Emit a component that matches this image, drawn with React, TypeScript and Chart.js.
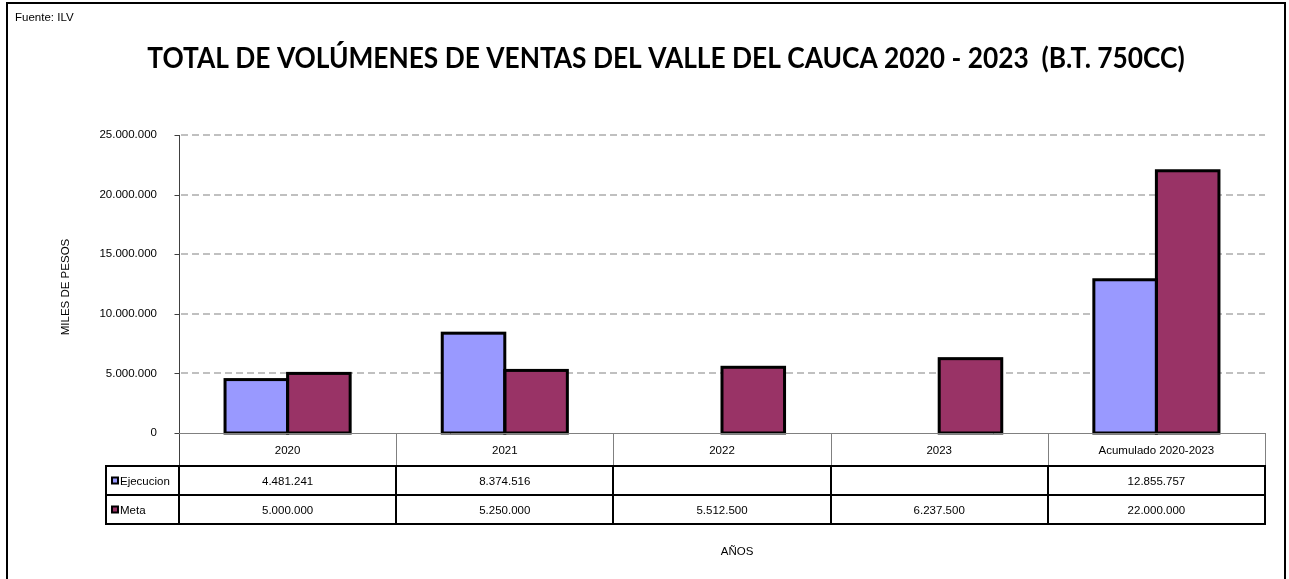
import React, { useEffect, useRef } from "react";
import { Chart, registerables } from "chart.js";

Chart.register(...registerables);

const categories = ["2020", "2021", "2022", "2023", "Acumulado 2020-2023"];
const seriesNames = ["Ejecucion", "Meta"];
const ejecucion: (number | null)[] = [4481241, 8374516, null, null, 12855757];
const meta: (number | null)[] = [5000000, 5250000, 5512500, 6237500, 22000000];
const seriesColors = ["#9999FF", "#993366"];
const yMin = 0;
const yMax = 25000000;
const yStep = 5000000;

const titleText = "TOTAL DE VOLÚMENES DE VENTAS DEL VALLE DEL CAUCA 2020 - 2023  (B.T. 750CC)";
const sourceText = "Fuente: ILV";
const yTitle = "MILES DE PESOS";
const xTitle = "AÑOS";

const SMALL_FONT = "11.5px 'Liberation Sans', Arial, sans-serif";

function fmt(v: number | null): string {
  if (v === null || v === undefined) return "";
  return Math.round(v)
    .toString()
    .replace(/\B(?=(\d{3})+(?!\d))/g, ".");
}

const decorPlugin = {
  id: "decor",
  beforeDatasetsDraw(chart: any) {
    const ctx = chart.ctx;
    const { left, right } = chart.chartArea;
    const y = chart.scales.y;
    ctx.save();
    ctx.strokeStyle = "#c0c0c0";
    ctx.lineWidth = 2;
    ctx.setLineDash([7, 4]);
    for (let v = yMin + yStep; v <= yMax; v += yStep) {
      const py = Math.round(y.getPixelForValue(v));
      ctx.beginPath();
      ctx.moveTo(left + 2, py);
      ctx.lineTo(right, py);
      ctx.stroke();
    }
    ctx.setLineDash([]);
    ctx.restore();
  },
  afterDatasetsDraw(chart: any) {
    const ctx = chart.ctx;
    const { left, right, top, bottom } = chart.chartArea;
    const xs = chart.scales.x;
    const ys = chart.scales.y;
    ctx.save();

    // bar borders centred on edges
    ctx.strokeStyle = "#000";
    ctx.lineWidth = 3;
    chart.data.datasets.forEach((ds: any, di: number) => {
      const m = chart.getDatasetMeta(di);
      m.data.forEach((el: any, i: number) => {
        if (ds.data[i] === null || ds.data[i] === undefined) return;
        const p = el.getProps(["x", "y", "base", "width"], true);
        ctx.strokeRect(p.x - p.width / 2, p.y, p.width, p.base - p.y);
      });
    });

    // y axis line & tick marks
    ctx.strokeStyle = "#404040";
    ctx.lineWidth = 1;
    const ax = Math.round(left) + 0.5;
    ctx.beginPath();
    ctx.moveTo(ax, top);
    ctx.lineTo(ax, bottom + 33);
    ctx.stroke();
    for (let v = yMin; v <= yMax; v += yStep) {
      const py = Math.round(ys.getPixelForValue(v)) + 0.5;
      ctx.beginPath();
      ctx.moveTo(ax - 5, py);
      ctx.lineTo(ax, py);
      ctx.stroke();
    }

    // data table
    const n = categories.length;
    const cw = (right - left) / n;
    const r0 = bottom;
    const r1 = bottom + 33;
    const r2 = r1 + 29;
    const r3 = r2 + 29;
    const legLeft = 106;

    ctx.strokeStyle = "#808080";
    ctx.lineWidth = 1;
    ctx.beginPath();
    ctx.moveTo(left, Math.round(r0) + 0.5);
    ctx.lineTo(right, Math.round(r0) + 0.5);
    ctx.stroke();
    for (let i = 1; i <= n; i++) {
      const px = Math.round(left + i * cw) + 0.5;
      ctx.beginPath();
      ctx.moveTo(px, r0);
      ctx.lineTo(px, r1);
      ctx.stroke();
    }

    ctx.strokeStyle = "#000";
    ctx.lineWidth = 2;
    [r1, r2, r3].forEach((ry) => {
      ctx.beginPath();
      ctx.moveTo(legLeft - 1, ry);
      ctx.lineTo(right + 1, ry);
      ctx.stroke();
    });
    const vlines = [legLeft];
    for (let i = 0; i <= n; i++) vlines.push(Math.round(left + i * cw));
    vlines.forEach((vx) => {
      ctx.beginPath();
      ctx.moveTo(vx, r1);
      ctx.lineTo(vx, r3);
      ctx.stroke();
    });

    ctx.fillStyle = "#000";
    ctx.font = SMALL_FONT;
    ctx.textAlign = "center";
    ctx.textBaseline = "middle";
    for (let i = 0; i < n; i++) {
      const cx = xs.getPixelForValue(i);
      ctx.fillText(categories[i], cx, (r0 + r1) / 2 + 1);
      ctx.fillText(fmt(ejecucion[i]), cx, (r1 + r2) / 2 + 1);
      ctx.fillText(fmt(meta[i]), cx, (r2 + r3) / 2 + 1);
    }
    const rowsMid = [(r1 + r2) / 2, (r2 + r3) / 2];
    rowsMid.forEach((my, k) => {
      ctx.fillStyle = "#000";
      ctx.fillRect(111, my - 4, 8, 8);
      ctx.fillStyle = seriesColors[k];
      ctx.fillRect(113, my - 2, 4, 4);
      ctx.fillStyle = "#000";
      ctx.textAlign = "left";
      ctx.fillText(seriesNames[k], 120, my + 1);
    });

    ctx.textAlign = "center";
    ctx.fillText(xTitle, 737, 552);
    ctx.save();
    ctx.translate(66, (top + bottom) / 2 + 3);
    ctx.rotate(-Math.PI / 2);
    ctx.fillText(yTitle, 0, 0);
    ctx.restore();

    ctx.textAlign = "left";
    ctx.textBaseline = "alphabetic";
    ctx.fillText(sourceText, 15, 21);

    // title, fitted to width, slightly taller
    ctx.font = "bold 100px Lato, 'Open Sans', sans-serif";
    const w100 = ctx.measureText(titleText).width;
    const fs = (100 * 1038) / w100;
    ctx.font = `bold ${fs}px Lato, 'Open Sans', sans-serif`;
    ctx.textAlign = "center";
    ctx.save();
    ctx.translate(666, 68);
    ctx.scale(1, 1.1);
    ctx.fillText(titleText, 0, 0);
    ctx.restore();

    ctx.strokeStyle = "#000";
    ctx.lineWidth = 2;
    ctx.beginPath();
    ctx.moveTo(7, 600);
    ctx.lineTo(7, 3);
    ctx.lineTo(1285, 3);
    ctx.lineTo(1285, 600);
    ctx.stroke();

    ctx.restore();
  },
};

export default function App() {
  const ref = useRef<HTMLCanvasElement | null>(null);
  useEffect(() => {
    if (!ref.current) return;
    const chart = new Chart(ref.current, {
      type: "bar",
      data: {
        labels: categories,
        datasets: [
          {
            label: seriesNames[0],
            data: ejecucion,
            backgroundColor: seriesColors[0],
            borderWidth: 0,
            categoryPercentage: 0.576,
            barPercentage: 1,
          },
          {
            label: seriesNames[1],
            data: meta,
            backgroundColor: seriesColors[1],
            borderWidth: 0,
            categoryPercentage: 0.576,
            barPercentage: 1,
          },
        ],
      },
      options: {
        responsive: false,
        animation: false,
        events: [],
        layout: { padding: { top: 135, right: 24, left: 0, bottom: 0 } },
        plugins: {
          legend: { display: false },
          title: { display: false },
          tooltip: { enabled: false },
        },
        scales: {
          x: {
            type: "category",
            offset: true,
            grid: { display: false, drawTicks: false },
            border: { display: false },
            ticks: { display: false },
            afterFit: (s: any) => {
              s.height = 146;
            },
          },
          y: {
            min: yMin,
            max: yMax,
            grid: { display: false, drawTicks: false },
            border: { display: false },
            ticks: {
              stepSize: yStep,
              padding: 22,
              color: "#000",
              font: { family: "'Liberation Sans', Arial, sans-serif", size: 11.5 },
              callback: (v: any) => fmt(Number(v)),
            },
            afterFit: (s: any) => {
              s.width = 179;
            },
          },
        },
      },
      plugins: [decorPlugin],
    });
    return () => chart.destroy();
  }, []);
  return (
    <div style={{ position: "fixed", left: 0, top: 0, width: 1289, height: 579, background: "#fff" }}>
      <canvas ref={ref} width={1289} height={579} />
    </div>
  );
}
